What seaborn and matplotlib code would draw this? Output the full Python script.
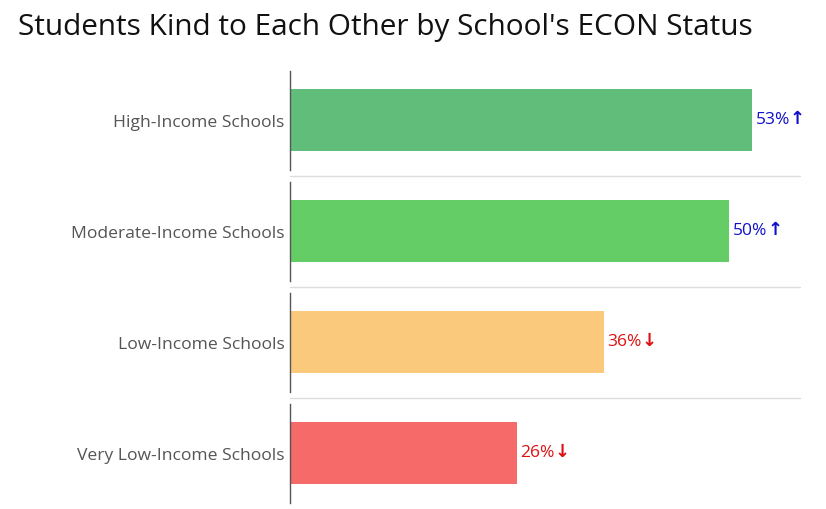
import matplotlib
matplotlib.use("Agg")
import matplotlib.pyplot as plt
from matplotlib.lines import Line2D
import seaborn as sns
import pandas as pd

categories = ["High-Income Schools", "Moderate-Income Schools",
              "Low-Income Schools", "Very Low-Income Schools"]
values = [53, 50.4, 36, 26]
labels = ["53%", "50%", "36%", "26%"]
trend = ["up", "up", "down", "down"]

palette = ["#60BE7A", "#65CD65", "#FAC97C", "#F66A6A"]
trend_color = {"up": "#1010CC", "down": "#DD1111"}
trend_arrow = {"up": "\u2191", "down": "\u2193"}

df = pd.DataFrame({"category": categories, "value": values})

sns.set_theme(style="white")
plt.rcParams["font.family"] = ["Open Sans", "DejaVu Sans"]

W, H = 826, 510
fig = plt.figure(figsize=(W / 100, H / 100), dpi=100)

left, right = 290 / W, 800 / W
panel_h, gap = 99, 12
top0 = 71.5
for i, cat in enumerate(categories):
    y_top = top0 + i * (panel_h + gap)
    ax = fig.add_axes([left, 1 - (y_top + panel_h) / H, right - left, panel_h / H])
    sub = df[df["category"] == cat]
    sns.barplot(data=sub, x="value", y="category", ax=ax, color=palette[i],
                width=0.63, saturation=1, edgecolor="none")
    ax.set_xlim(0, 58.5)
    ax.set_xlabel("")
    ax.set_ylabel("")
    ax.set_xticks([])
    for s in ["top", "right", "bottom"]:
        ax.spines[s].set_visible(False)
    ax.spines["left"].set_color("#555555")
    ax.spines["left"].set_linewidth(1.0)
    ax.tick_params(axis="y", length=0, pad=4, labelsize=12.6, labelcolor="#555555")
    c = trend_color[trend[i]]
    t = ax.annotate(labels[i], xy=(values[i], 0), xytext=(2.5, 1),
                    textcoords="offset points", va="center", ha="left",
                    fontsize=12.5, color=c)
    ax.annotate(trend_arrow[trend[i]], xy=(1, 0.55), xycoords=t,
                xytext=(0, 0), textcoords="offset points",
                va="center", ha="left", fontsize=13, color=c,
                fontweight="bold", family="DejaVu Sans")
    if i < len(categories) - 1:
        y_sep = 1 - (y_top + panel_h + gap / 2) / H
        fig.add_artist(Line2D([left, right], [y_sep, y_sep],
                              transform=fig.transFigure, color="#DDDDDD", lw=1))

fig.text(18 / W, 1 - 27 / H, "Students Kind to Each Other by School's ECON Status",
         fontsize=21.4, color="#111111", va="center", ha="left")

fig.savefig("out.png", dpi=100)
